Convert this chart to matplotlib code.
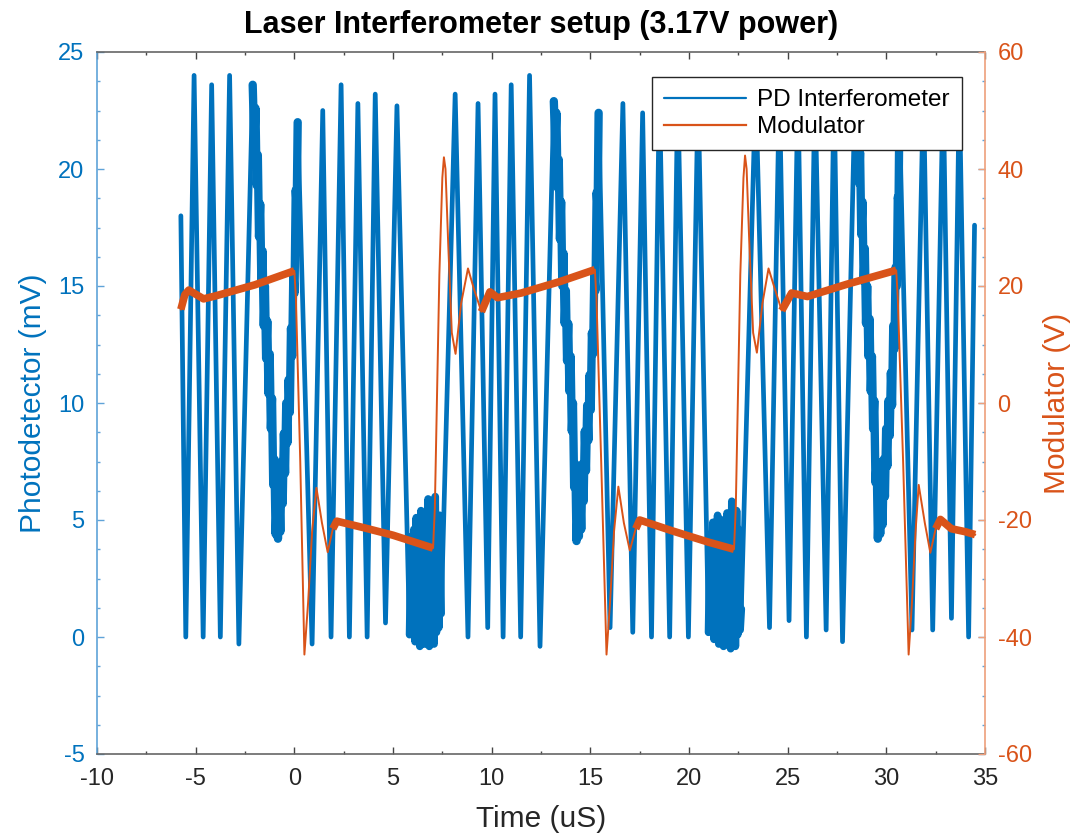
import numpy as np
import matplotlib
matplotlib.use("Agg")
import matplotlib.pyplot as plt
from matplotlib.ticker import MultipleLocator

plt.rcParams['font.family'] = ['Liberation Sans', 'DejaVu Sans']
plt.rcParams['axes.unicode_minus'] = False

# ---------------- Photodetector (mV) : fringe vertices ----------------
fr0_t = [-5.75, -5.50, -5.08, -4.62, -4.19, -3.75, -3.28, -2.81]
fr0_v = [18.0, 0.0, 24.0, 0.0, 23.6, 0.0, 24.0, -0.3]

turn1_t = [-2.11, -2.03, -1.97, -1.91, -1.85, -1.79, -1.73, -1.67, -1.61, -1.55, -1.49, -1.43,
           -1.37, -1.31, -1.25, -1.19, -1.13, -1.07, -1.01, -0.95, -0.89, -0.83, -0.77, -0.71,
           -0.65, -0.59, -0.53, -0.47, -0.41, -0.35, -0.29, -0.23, -0.17, -0.11, -0.05, 0.01,
           0.07, 0.12, 0.17]
turn1_v = [23.6, 21.1, 22.6, 19.3, 20.6, 17.1, 18.5, 15.1, 16.5, 13.3, 15.0, 11.9,
           13.5, 10.4, 12.1, 8.9, 10.2, 6.5, 7.6, 4.4, 5.8, 4.2, 6.3, 4.5,
           7.5, 5.7, 8.7, 7.0, 10.0, 8.3, 11.0, 9.6, 13.2, 12.0, 15.6, 14.7,
           19.1, 18.4, 22.0]

fr1_t = [0.90, 1.44, 1.86, 2.37, 2.79, 3.22, 3.69, 4.10, 4.62, 5.20]
fr1_v = [-0.3, 22.5, 0.0, 23.6, 0.0, 22.8, 0.0, 23.2, 0.6, 22.7]

blob1_t = [5.84, 5.92, 6.00, 6.06, 6.12, 6.18, 6.24, 6.30, 6.36, 6.42, 6.48, 6.54, 6.60, 6.66,
           6.72, 6.78, 6.84, 6.90, 6.96, 7.02, 7.08, 7.14, 7.20, 7.26, 7.32, 7.38, 7.44]
blob1_v = [0.1, 4.3, 0.4, 4.6, -0.2, 5.1, 0.1, 4.4, -0.4, 5.4, 0.2, 4.8, -0.3, 5.0,
           0.0, 5.9, -0.4, 4.7, 0.1, 5.3, -0.3, 6.0, 0.2, 4.9, 0.4, 5.2, 1.0]

fr2_t = [8.15, 8.80, 9.31, 9.80, 10.17, 10.58, 10.99, 11.47, 11.92, 12.45]
fr2_v = [23.2, 0.0, 22.8, 0.4, 23.2, 0.0, 23.6, 0.0, 24.0, -0.4]

turn2_t = [13.15, 13.22, 13.28, 13.34, 13.40, 13.46, 13.52, 13.58, 13.64, 13.70, 13.76, 13.82,
           13.88, 13.94, 14.00, 14.06, 14.12, 14.18, 14.24, 14.30, 14.36, 14.42, 14.48, 14.54,
           14.60, 14.66, 14.72, 14.78, 14.84, 14.90, 14.96, 15.02, 15.08, 15.14, 15.20, 15.26,
           15.32, 15.37, 15.42]
turn2_v = [22.9, 21.0, 22.4, 19.2, 20.4, 17.0, 18.6, 15.0, 16.4, 13.4, 14.8, 11.8,
           13.4, 10.5, 12.0, 8.8, 10.0, 6.4, 7.4, 4.1, 5.6, 4.3, 6.4, 4.6,
           7.4, 5.8, 8.8, 7.1, 9.9, 8.4, 11.2, 9.7, 13.0, 12.1, 15.5, 14.8,
           19.0, 18.3, 22.4]

fr3_t = [16.00, 16.65, 17.15, 17.65, 18.10, 18.50, 19.02, 19.43, 19.97, 20.46]
fr3_v = [0.4, 22.8, 0.2, 22.4, 0.0, 23.4, 0.0, 23.4, 0.0, 23.3]

blob2_t = [20.99, 21.07, 21.15, 21.21, 21.27, 21.33, 21.39, 21.45, 21.51, 21.57, 21.63, 21.69,
           21.75, 21.81, 21.87, 21.93, 21.99, 22.05, 22.11, 22.17, 22.23, 22.29, 22.35, 22.41,
           22.47, 22.53, 22.59, 22.65]
blob2_v = [0.2, 4.4, 0.3, 4.9, -0.1, 4.5, 0.2, 5.2, -0.3, 4.7, 0.1, 5.0,
           -0.4, 4.6, 0.0, 5.3, -0.2, 4.8, -0.5, 5.8, -0.1, 5.0, -0.4, 5.4,
           0.1, 4.6, 0.3, 1.2]

fr4_t = [23.38, 24.08, 24.58, 25.07, 25.52, 25.95, 26.38, 26.95, 27.35, 27.78]
fr4_v = [23.5, 0.4, 23.5, 0.7, 23.5, 0.0, 23.5, 0.3, 23.5, -0.2]

turn3_t = [28.42, 28.49, 28.55, 28.61, 28.67, 28.73, 28.79, 28.85, 28.91, 28.97, 29.03, 29.09,
           29.15, 29.21, 29.27, 29.33, 29.39, 29.45, 29.51, 29.57, 29.63, 29.69, 29.75, 29.81,
           29.87, 29.93, 29.99, 30.05, 30.11, 30.17, 30.23, 30.29, 30.35, 30.41, 30.47, 30.53,
           30.58, 30.62, 30.66]
turn3_v = [23.5, 21.2, 22.8, 19.4, 20.7, 17.2, 18.6, 15.2, 16.6, 13.4, 15.0, 12.0,
           13.6, 10.5, 12.0, 8.9, 10.1, 6.6, 7.5, 4.2, 5.7, 4.4, 6.5, 4.8,
           7.6, 6.0, 8.9, 7.3, 10.1, 8.6, 11.3, 9.9, 13.3, 12.3, 15.8, 15.0,
           18.8, 18.6, 22.3]

fr5_t = [31.30, 31.88, 32.35, 32.88, 33.30, 33.70, 34.17, 34.47]
fr5_v = [0.3, 23.4, 0.3, 23.5, 0.8, 23.5, 0.0, 17.6]

# ---------------- Modulator (V) ----------------
mod_t = [-5.75, -5.55, -5.35, -5.10, -4.60, -4.00, -2.00, 0.00,
         0.08, 0.30, 0.51, 0.70, 0.90, 1.12, 1.40, 1.69, 1.95, 2.15, 3.50, 5.00, 7.03,
         7.12, 7.35, 7.50, 7.58, 7.66, 7.80, 7.98, 8.17, 8.45, 8.80, 9.10, 9.48, 9.91, 10.30,
         11.50, 13.50, 15.23,
         15.31, 15.55, 15.82, 16.00, 16.20, 16.42, 16.70, 17.00, 17.30, 17.50, 19.10, 21.00, 22.28,
         22.37, 22.60, 22.76, 22.84, 22.92, 23.06, 23.25, 23.44, 23.72, 24.03, 24.35, 24.70, 25.20,
         26.00, 28.00, 30.50,
         30.58, 30.85, 31.13, 31.30, 31.48, 31.64, 31.95, 32.23, 32.50, 32.74, 33.30, 34.00, 34.50]
mod_v = [16.0, 18.5, 19.3, 18.8, 17.8, 18.3, 20.2, 22.6,
         18.0, -10.0, -43.0, -34.0, -22.0, -14.5, -20.5, -25.5, -21.5, -20.2, -21.3, -22.6, -24.8,
         -18.0, 22.0, 38.5, 42.0, 40.0, 27.0, 12.0, 8.4, 17.0, 23.0, 19.5, 15.6, 19.0, 18.0,
         18.8, 20.8, 22.8,
         18.0, -10.0, -43.0, -34.0, -22.0, -14.3, -20.5, -25.2, -21.5, -20.0, -21.8, -23.8, -25.0,
         -18.0, 22.0, 38.5, 42.3, 40.0, 27.0, 12.0, 8.6, 17.0, 23.0, 19.5, 15.8, 18.8,
         18.2, 20.3, 22.7,
         18.0, -10.0, -43.0, -34.0, -22.0, -14.0, -20.5, -25.6, -21.5, -19.9, -21.5, -22.0, -22.5]

# time windows where the modulator trace is a noisy (thick) plateau
plateau_windows = [(-5.75, 0.0), (1.95, 7.03), (9.48, 15.23), (17.30, 22.28), (24.70, 30.50), (32.50, 34.50)]

x_ticks = [-10, -5, 0, 5, 10, 15, 20, 25, 30, 35]
left_ticks = [-5, 0, 5, 10, 15, 20, 25]
right_ticks = [-60, -40, -20, 0, 20, 40, 60]

BLUE = '#0072BD'
ORANGE = '#D95319'

blue_t = np.concatenate([fr0_t, turn1_t, fr1_t, blob1_t, fr2_t, turn2_t, fr3_t, blob2_t,
                         fr4_t, turn3_t, fr5_t])
blue_v = np.concatenate([fr0_v, turn1_v, fr1_v, blob1_v, fr2_v, turn2_v, fr3_v, blob2_v,
                         fr4_v, turn3_v, fr5_v])
mod_t = np.array(mod_t)
mod_v = np.array(mod_v)

fig = plt.figure(figsize=(10.86, 8.39), dpi=100)
ax1 = fig.add_axes([97/1086, 1 - 754/839, (985 - 97)/1086, (754 - 52)/839])
ax2 = ax1.twinx()

l1, = ax1.plot(blue_t, blue_v, color=BLUE, lw=3.4, solid_joinstyle='round',
               solid_capstyle='round', label='PD Interferometer')
# noisy slow-fringe stretches are drawn as a wider trace
for tt, vv in [(turn1_t, turn1_v), (turn2_t, turn2_v), (turn3_t, turn3_v)]:
    ax1.plot(tt, vv, color=BLUE, lw=6.0, solid_joinstyle='round', solid_capstyle='round')
for tt, vv in [(blob1_t, blob1_v), (blob2_t, blob2_v)]:
    ax1.plot(tt, vv, color=BLUE, lw=5.5, solid_joinstyle='round', solid_capstyle='round')

l2, = ax2.plot(mod_t, mod_v, color=ORANGE, lw=1.4, label='Modulator')
for (a, b) in plateau_windows:
    m = (mod_t >= a) & (mod_t <= b)
    ax2.plot(mod_t[m], mod_v[m], color=ORANGE, lw=5.5, solid_capstyle='butt')

ax1.set_xlim(-10, 35)
ax1.set_ylim(-5, 25)
ax2.set_ylim(-60, 60)
ax1.set_xticks(x_ticks)
ax1.set_yticks(left_ticks)
ax2.set_yticks(right_ticks)
ax1.xaxis.set_minor_locator(MultipleLocator(2.5))
ax1.yaxis.set_minor_locator(MultipleLocator(1.25))

# spines
for s in ['top', 'bottom']:
    ax1.spines[s].set_color('#666666')
    ax1.spines[s].set_linewidth(1.2)
ax1.spines['left'].set_color('#5fa3d8')
ax1.spines['left'].set_linewidth(1.2)
ax1.spines['right'].set_visible(False)
for s in ['top', 'bottom', 'left']:
    ax2.spines[s].set_visible(False)
ax2.spines['right'].set_color('#eea07c')
ax2.spines['right'].set_linewidth(1.2)

ax1.tick_params(axis='x', which='both', direction='in', top=True, bottom=True,
                color='#444444', width=1.0)
ax1.tick_params(axis='x', which='major', length=5, labelsize=17, labelcolor='#262626', pad=10)
ax1.tick_params(axis='x', which='minor', length=2.5)
ax1.tick_params(axis='y', which='both', direction='in', left=True, right=True,
                color='#5fa3d8', width=1.0)
ax1.tick_params(axis='y', which='major', length=5, labelsize=17, labelcolor=BLUE, pad=9)
ax1.tick_params(axis='y', which='minor', length=2.5)
ax2.tick_params(axis='y', which='major', direction='in', length=5, width=1.0,
                color='#eea07c', labelsize=17, labelcolor=ORANGE, pad=9)
ax2.tick_params(axis='y', which='minor', right=False, left=False)

ax1.set_title('Laser Interferometer setup (3.17V power)', fontsize=22,
              fontweight='bold', pad=14)
ax1.set_xlabel('Time (uS)', fontsize=21.5, color='#262626', labelpad=11)
ax1.set_ylabel('Photodetector (mV)', fontsize=21.5, color=BLUE, labelpad=8)
ax2.set_ylabel('Modulator (V)', fontsize=21.5, color=ORANGE, labelpad=8)

leg = ax2.legend([l1, l2], ['PD Interferometer', 'Modulator'], loc='upper right',
                 bbox_to_anchor=(962/1086, 1 - 77/839), bbox_transform=fig.transFigure,
                 borderaxespad=0, fancybox=False, framealpha=1, edgecolor='#262626',
                 fontsize=17.5, handlelength=3.4, handletextpad=0.45, labelspacing=0.2,
                 borderpad=0.5)
leg.get_frame().set_linewidth(1.0)
for ln in leg.get_lines():
    ln.set_linewidth(1.6)

fig.savefig('out.png', dpi=100)
